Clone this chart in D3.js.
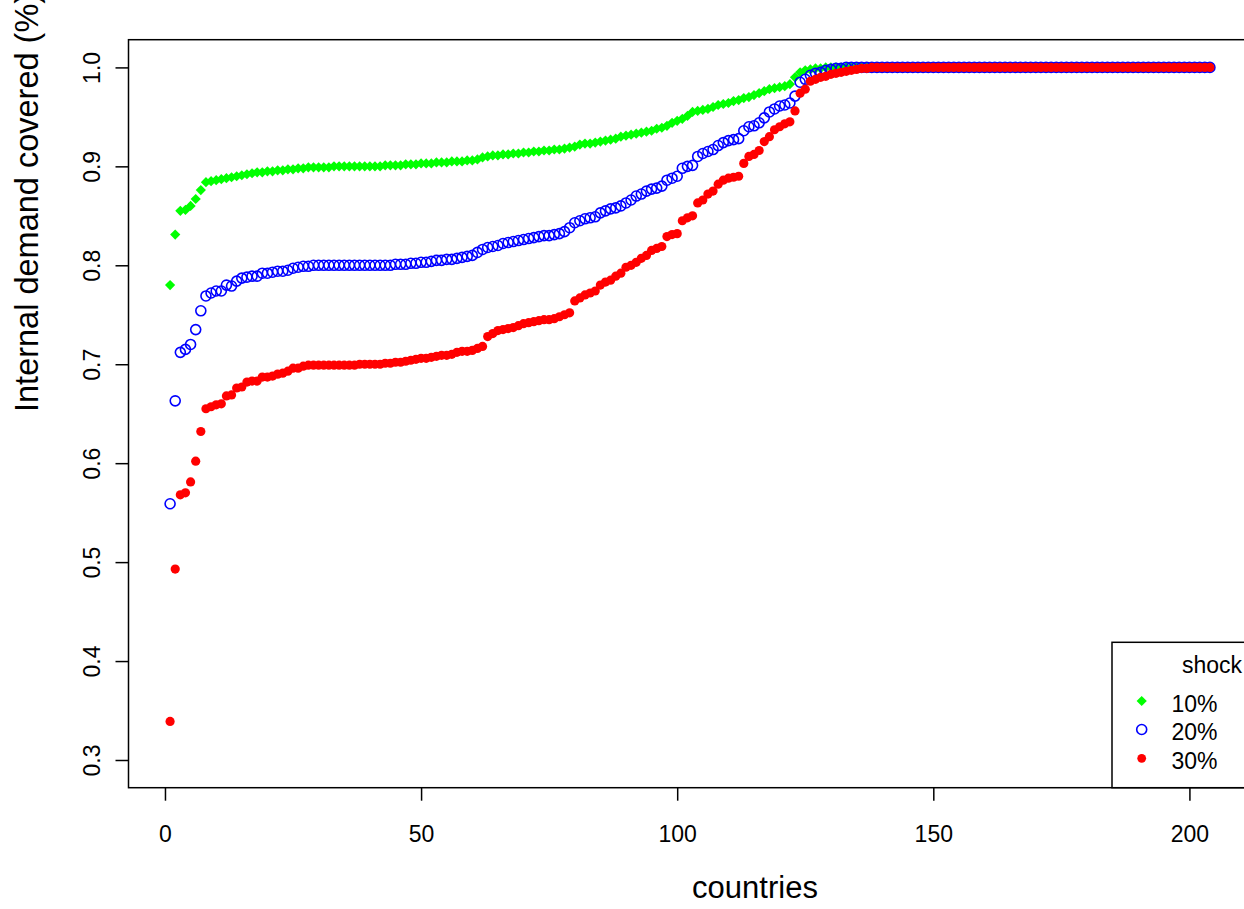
<!DOCTYPE html>
<html>
<head>
<meta charset="utf-8">
<script src="https://cdn.jsdelivr.net/npm/d3@7"></script>
<style>
  body { margin: 0; background: #fff; }
  text { font-family: "Liberation Sans", Arial, sans-serif; }
</style>
</head>
<body>
<div id="chart"></div>
<script>
// share of internal demand covered, countries sorted, one value per country
const shock10 = [
  0.780,0.831,0.855,0.856,0.860,0.867,0.876,0.884,0.885,0.886,
  0.887,0.888,0.889,0.890,0.891,0.892,0.893,0.894,0.894,0.895,
  0.895,0.896,0.896,0.897,0.897,0.898,0.898,0.899,0.899,0.899,
  0.899,0.899,0.900,0.900,0.900,0.900,0.900,0.900,0.900,0.900,
  0.900,0.900,0.901,0.901,0.901,0.901,0.902,0.902,0.902,0.903,
  0.903,0.903,0.904,0.904,0.904,0.905,0.905,0.905,0.906,0.906,
  0.907,0.909,0.910,0.911,0.911,0.912,0.912,0.913,0.913,0.914,
  0.914,0.915,0.915,0.916,0.916,0.917,0.917,0.918,0.919,0.920,
  0.922,0.923,0.923,0.924,0.925,0.926,0.927,0.928,0.930,0.931,
  0.932,0.933,0.934,0.935,0.936,0.938,0.939,0.941,0.944,0.946,
  0.948,0.951,0.955,0.956,0.957,0.958,0.960,0.962,0.963,0.964,
  0.966,0.967,0.969,0.970,0.972,0.974,0.976,0.978,0.979,0.980,
  0.981,0.983,0.990,0.995,0.997,0.998,0.999,0.999,1,1,
  1,1,1,1,1,1,1,1,1,1,
  1,1,1,1,1,1,1,1,1,1,
  1,1,1,1,1,1,1,1,1,1,
  1,1,1,1,1,1,1,1,1,1,
  1,1,1,1,1,1,1,1,1,1,
  1,1,1,1,1,1,1,1,1,1,
  1,1,1,1,1,1,1,1,1,1,
  1,1,1,1
];
const shock20 = [
  0.559,0.663,0.712,0.715,0.720,0.735,0.754,0.769,0.772,0.774,
  0.774,0.780,0.779,0.784,0.787,0.788,0.789,0.789,0.792,0.792,
  0.793,0.794,0.794,0.795,0.797,0.798,0.799,0.799,0.800,0.800,
  0.800,0.800,0.800,0.800,0.800,0.800,0.800,0.800,0.800,0.800,
  0.800,0.800,0.800,0.800,0.801,0.801,0.801,0.802,0.802,0.803,
  0.803,0.804,0.805,0.805,0.806,0.806,0.807,0.808,0.809,0.810,
  0.813,0.816,0.818,0.819,0.820,0.822,0.823,0.824,0.825,0.826,
  0.827,0.828,0.829,0.830,0.830,0.831,0.832,0.834,0.838,0.843,
  0.845,0.847,0.848,0.849,0.853,0.855,0.857,0.858,0.860,0.863,
  0.866,0.870,0.872,0.875,0.877,0.878,0.880,0.886,0.888,0.890,
  0.898,0.900,0.901,0.910,0.913,0.915,0.917,0.921,0.924,0.926,
  0.927,0.928,0.936,0.940,0.941,0.944,0.949,0.955,0.958,0.961,
  0.962,0.964,0.971,0.985,0.988,0.992,0.994,0.995,0.997,0.998,
  0.999,0.999,1,1,1,1,1,1,1,1,
  1,1,1,1,1,1,1,1,1,1,
  1,1,1,1,1,1,1,1,1,1,
  1,1,1,1,1,1,1,1,1,1,
  1,1,1,1,1,1,1,1,1,1,
  1,1,1,1,1,1,1,1,1,1,
  1,1,1,1,1,1,1,1,1,1,
  1,1,1,1
];
const shock30 = [
  0.339,0.493,0.568,0.570,0.581,0.602,0.632,0.655,0.657,0.659,
  0.660,0.668,0.669,0.676,0.677,0.682,0.683,0.683,0.687,0.687,
  0.688,0.690,0.691,0.693,0.696,0.696,0.698,0.699,0.699,0.699,
  0.699,0.699,0.699,0.699,0.699,0.699,0.699,0.700,0.700,0.700,
  0.700,0.700,0.701,0.701,0.702,0.702,0.703,0.704,0.705,0.706,
  0.706,0.707,0.708,0.709,0.709,0.710,0.712,0.713,0.713,0.714,
  0.716,0.718,0.728,0.731,0.734,0.735,0.736,0.737,0.739,0.741,
  0.742,0.743,0.744,0.745,0.745,0.746,0.748,0.750,0.752,0.764,
  0.767,0.770,0.772,0.774,0.780,0.783,0.785,0.789,0.792,0.798,
  0.800,0.803,0.807,0.810,0.815,0.817,0.819,0.829,0.831,0.832,
  0.845,0.848,0.850,0.863,0.866,0.872,0.875,0.882,0.886,0.888,
  0.889,0.890,0.903,0.910,0.912,0.916,0.925,0.930,0.937,0.940,
  0.943,0.945,0.956,0.974,0.978,0.986,0.988,0.990,0.991,0.993,
  0.994,0.995,0.996,0.997,0.998,0.999,0.999,1,1,1,
  1,1,1,1,1,1,1,1,1,1,
  1,1,1,1,1,1,1,1,1,1,
  1,1,1,1,1,1,1,1,1,1,
  1,1,1,1,1,1,1,1,1,1,
  1,1,1,1,1,1,1,1,1,1,
  1,1,1,1,1,1,1,1,1,1,
  1,1,1,1
];
const legendLabels = ["10%", "20%", "30%"];
const xTicks = [0, 50, 100, 150, 200];
const yTicks = [0.3, 0.4, 0.5, 0.6, 0.7, 0.8, 0.9, 1.0];

const width = 1244, height = 909;
const plot = { left: 128.5, right: 1251.5, top: 39.7, bottom: 787.7 };

const svg = d3.select("#chart").append("svg")
  .attr("width", width).attr("height", height);

// R style: range padded 4% on each side
const x = d3.scaleLinear().domain([-7.12, 212.12]).range([plot.left, plot.right]);
const y = d3.scaleLinear().domain([0.272, 1.028]).range([plot.bottom, plot.top]);

const diamond = d3.symbol().type(d3.symbolSquare).size(52)();

// green diamonds first, then blue rings, red dots on top
svg.append("g").selectAll("path")
  .data(shock10).enter().append("path")
  .attr("d", diamond)
  .attr("transform", (d, i) => `translate(${x(i + 1)},${y(d)}) rotate(45)`)
  .attr("fill", "#00ff00");

svg.append("g").selectAll("circle")
  .data(shock20).enter().append("circle")
  .attr("cx", (d, i) => x(i + 1))
  .attr("cy", (d) => y(d))
  .attr("r", 5)
  .attr("fill", "none")
  .attr("stroke", "#0000ff")
  .attr("stroke-width", 1.6);

svg.append("g").selectAll("circle")
  .data(shock30).enter().append("circle")
  .attr("cx", (d, i) => x(i + 1))
  .attr("cy", (d) => y(d))
  .attr("r", 4.6)
  .attr("fill", "#ff0000");

// box
svg.append("rect")
  .attr("x", plot.left).attr("y", plot.top)
  .attr("width", plot.right - plot.left).attr("height", plot.bottom - plot.top)
  .attr("fill", "none").attr("stroke", "#000").attr("stroke-width", 1.5);

// axes
const xAxis = svg.append("g")
  .attr("transform", `translate(0,${plot.bottom})`)
  .call(d3.axisBottom(x).tickValues(xTicks).tickSize(13).tickFormat(d3.format("d")));
xAxis.select(".domain").remove();
xAxis.selectAll("line").attr("stroke", "#000").attr("stroke-width", 1.5);
xAxis.selectAll("text")
  .attr("y", 54).attr("dy", null)
  .attr("font-size", "23px").attr("fill", "#000");

const yAxis = svg.append("g")
  .attr("transform", `translate(${plot.left},0)`)
  .call(d3.axisLeft(y).tickValues(yTicks).tickSize(13).tickFormat(d3.format(".1f")));
yAxis.select(".domain").remove();
yAxis.selectAll("line").attr("stroke", "#000").attr("stroke-width", 1.5);
yAxis.selectAll("text")
  .attr("x", null).attr("dy", null)
  .attr("transform", "translate(-28.5,0) rotate(-90)")
  .attr("text-anchor", "middle")
  .attr("font-size", "23px").attr("fill", "#000");

// axis titles
svg.append("text")
  .attr("x", 755).attr("y", 898)
  .attr("text-anchor", "middle")
  .attr("font-size", "31px")
  .text("countries");

svg.append("text")
  .attr("transform", "translate(38,412) rotate(-90)")
  .attr("text-anchor", "start")
  .attr("font-size", "32.5px")
  .text("Internal demand covered (%)");

// legend, bottom right
const legend = svg.append("g");
legend.append("rect")
  .attr("x", 1112).attr("y", 642.3)
  .attr("width", 160).attr("height", plot.bottom - 642.3)
  .attr("fill", "#fff").attr("stroke", "#000").attr("stroke-width", 1.5);
legend.append("text")
  .attr("x", 1182).attr("y", 673)
  .attr("font-size", "23px")
  .text("shock");

const rowY = [701, 729.5, 758.3];
legend.append("path")
  .attr("d", diamond)
  .attr("transform", `translate(1141.7,${rowY[0]}) rotate(45)`)
  .attr("fill", "#00ff00");
legend.append("circle")
  .attr("cx", 1141.7).attr("cy", rowY[1]).attr("r", 5)
  .attr("fill", "none").attr("stroke", "#0000ff").attr("stroke-width", 1.6);
legend.append("circle")
  .attr("cx", 1141.7).attr("cy", rowY[2]).attr("r", 4.4)
  .attr("fill", "#ff0000");

legend.selectAll("text.lab")
  .data(legendLabels).enter().append("text")
  .attr("class", "lab")
  .attr("x", 1171.5)
  .attr("y", (d, i) => rowY[i] + 10.5)
  .attr("font-size", "23px")
  .text((d) => d);
</script>
</body>
</html>
